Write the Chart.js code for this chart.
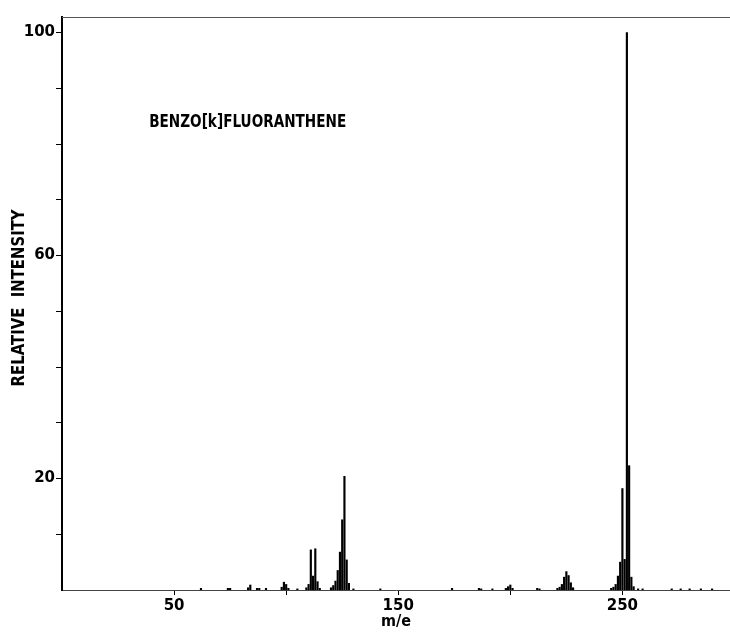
<!DOCTYPE html>
<html>
<head>
<meta charset="utf-8">
<script src="https://cdn.jsdelivr.net/npm/chart.js@4.4.1/dist/chart.umd.min.js"></script>
<style>
html,body{margin:0;padding:0;background:#fff;overflow:hidden}
#wrap{width:730px;height:637px;position:relative}
</style>
</head>
<body>
<div id="wrap"><canvas id="c" width="730" height="637"></canvas></div>
<script>
// ---- data ----
const massValues = [62, 74, 75, 83, 84, 87, 88, 91, 98, 99, 100, 101, 105,
  109, 110, 111, 112, 113, 114, 115,
  120, 121, 122, 123, 124, 125, 126, 127, 128, 130, 142,
  174, 186, 187, 192, 198, 199, 200, 201, 212, 213,
  221, 222, 223, 224, 225, 226, 227, 228,
  245, 246, 247, 248, 249, 250, 251, 252, 253, 254, 255,
  257, 259, 272, 276, 280, 285, 290];
const intensities = [0.3, 0.3, 0.3, 0.4, 0.9, 0.3, 0.3, 0.3, 0.5, 1.4, 1.0, 0.3, 0.2,
  0.4, 1.0, 7.2, 2.5, 7.4, 1.5, 0.3,
  0.4, 0.8, 1.6, 3.5, 6.8, 12.6, 20.4, 5.4, 1.2, 0.2, 0.2,
  0.3, 0.3, 0.2, 0.2, 0.3, 0.6, 0.9, 0.3, 0.3, 0.2,
  0.3, 0.5, 1.0, 2.3, 3.3, 2.6, 1.3, 0.4,
  0.3, 0.5, 1.0, 2.5, 5.0, 18.2, 5.5, 100, 22.3, 2.3, 0.6,
  0.2, 0.2, 0.2, 0.2, 0.2, 0.2, 0.2];
const xTickValues = [50, 100, 150, 200, 250];
const xTickLabels = ['50', '150', '250'];
const yTickValues = [10, 20, 30, 40, 50, 60, 70, 80, 90, 100];
const yTickLabels = ['20', '60', '100'];
const compoundName = 'BENZO[k]FLUORANTHENE';
const xAxisTitle = 'm/e';
const yAxisTitle = 'RELATIVE  INTENSITY';

const points = massValues.map((m, i) => ({ x: m, y: intensities[i] }));

const decor = {
  id: 'decor',
  afterDraw(chart) {
    const { ctx, chartArea: a, scales } = chart;
    ctx.save();
    // top frame line
    ctx.strokeStyle = '#555';
    ctx.lineWidth = 1;
    ctx.beginPath();
    ctx.moveTo(a.left, a.top + 0.5);
    ctx.lineTo(a.right, a.top + 0.5);
    ctx.stroke();
    // compound name
    ctx.fillStyle = '#000';
    ctx.font = 'bold 18px "DejaVu Sans", sans-serif';
    ctx.textAlign = 'left';
    ctx.textBaseline = 'alphabetic';
    ctx.fillText(compoundName, scales.x.getPixelForValue(38.9), scales.y.getPixelForValue(83.1), 197);
    // y axis title
    ctx.translate(a.left - 43, scales.y.getPixelForValue(52.4));
    ctx.rotate(-Math.PI / 2);
    ctx.textAlign = 'center';
    ctx.textBaseline = 'middle';
    ctx.font = 'bold 18px "DejaVu Sans", sans-serif';
    ctx.fillText(yAxisTitle, 0, 0, 177);
    ctx.restore();
  }
};

new Chart(document.getElementById('c'), {
  type: 'bar',
  data: {
    datasets: [{
      data: points,
      backgroundColor: '#000',
      borderWidth: 0,
      barThickness: 1.5
    }]
  },
  options: {
    responsive: false,
    animation: false,
    devicePixelRatio: 1,
    layout: { padding: { top: 17, right: 0, left: 0, bottom: 0 } },
    plugins: { legend: { display: false }, tooltip: { enabled: false } },
    scales: {
      x: {
        type: 'linear',
        min: 0,
        max: 298,
        offset: false,
        afterBuildTicks: s => { s.ticks = xTickValues.map(v => ({ value: v })); },
        afterFit: s => { s.height = 47; },
        ticks: {
          autoSkip: false,
          maxRotation: 0,
          padding: 2,
          color: '#000',
          font: { family: '"DejaVu Sans", sans-serif', size: 15, weight: 'bold' },
          callback: v => xTickLabels.includes(String(v)) ? String(v) : ''
        },
        grid: { display: true, drawOnChartArea: false, drawTicks: true, tickLength: 5, color: '#000', offset: false },
        border: { display: true, color: '#444', width: 1 },
        title: {
          display: true,
          text: xAxisTitle,
          color: '#000',
          font: { family: '"DejaVu Sans Condensed", "DejaVu Sans", sans-serif', size: 16, weight: 'bold' },
          padding: { top: 0, bottom: 6 }
        }
      },
      y: {
        min: 0,
        max: 102.8,
        afterBuildTicks: s => { s.ticks = yTickValues.map(v => ({ value: v })); },
        afterFit: s => { s.width = 62; },
        ticks: {
          padding: 1,
          color: '#000',
          font: { family: '"DejaVu Sans", sans-serif', size: 15, weight: 'bold' },
          callback: v => yTickLabels.includes(String(v)) ? String(v) : ''
        },
        grid: { display: true, drawOnChartArea: false, drawTicks: true, tickLength: 6, color: '#000' },
        border: { display: true, color: '#000', width: 2 }
      }
    }
  },
  plugins: [decor]
});
</script>
</body>
</html>
